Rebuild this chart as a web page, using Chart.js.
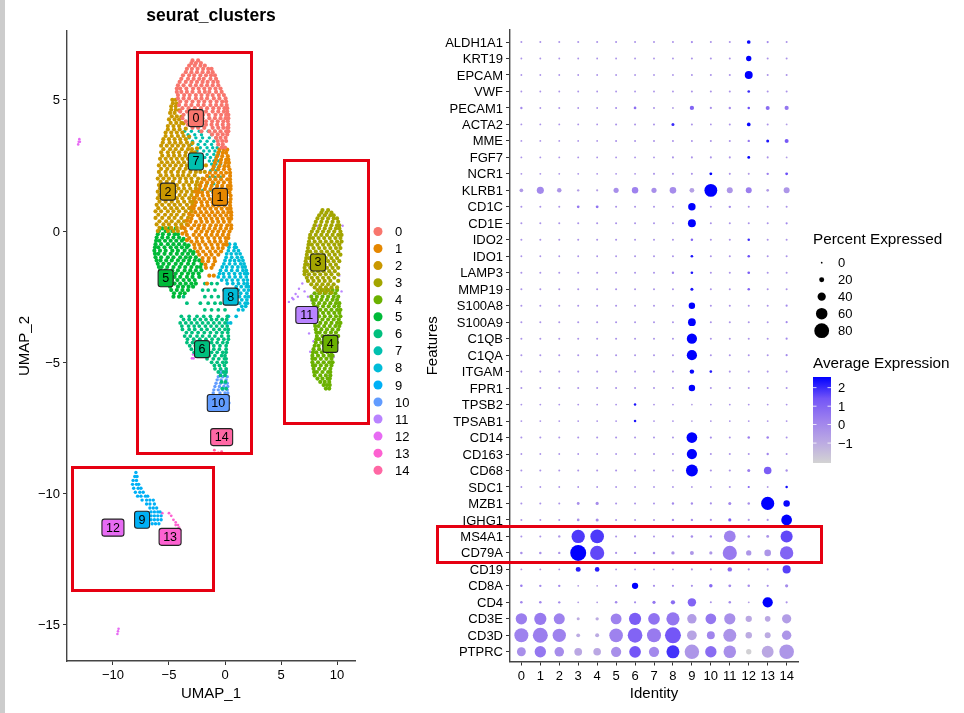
<!DOCTYPE html>
<html>
<head>
<meta charset="utf-8">
<script src="https://cdn.jsdelivr.net/npm/chart.js@4"></script>
<style>
  html, body { margin: 0; padding: 0; background: #fff; overflow: hidden; }
  #page { position: relative; width: 964px; height: 713px; }
  canvas { position: absolute; top: 0; }
  #strip { position: absolute; left: 0; top: 0; width: 5px; height: 713px; background: #cccccc; }
  .box { position: absolute; border: 3px solid #e60012; box-sizing: border-box; }
  #title { position: absolute; left: 111px; width: 200px; top: 5px; text-align: center;
           font: bold 17.5px "Liberation Sans", Arial, sans-serif; color: #000; }
</style>
</head>
<body>
<div id="page">
  <canvas id="umapChart" style="left:0"></canvas>
  <canvas id="dotChart" style="left:410px"></canvas>
  <div id="strip"></div>
  <div id="title">seurat_clusters</div>
  <div class="box" style="left:136px;top:51px;width:117px;height:404px"></div>
  <div class="box" style="left:283px;top:159px;width:87px;height:266px"></div>
  <div class="box" style="left:71px;top:466px;width:144px;height:126px"></div>
  <div class="box" style="left:436px;top:525px;width:387px;height:39px"></div>
</div>
<script>
const FONT = '"Liberation Sans", Arial, sans-serif';

const clusterNames = ['0','1','2','3','4','5','6','7','8','9','10','11','12','13','14'];
const clusterColors = ['#F8766D','#E58700','#C99800','#A3A500','#6BB100','#00BA38','#00BF7D','#00C0AF','#00BCD8','#00B0F6','#619CFF','#B983FF','#E76BF3','#FD61D1','#FF67A4'];
const umapXTicks = [-10,-5,0,5,10];
const umapYTicks = [5,0,-5,-10,-15];

// UMAP cells, one row per y: [y, x, x, x...]
const umap0 = [
  [6.5,-2.9,-2.4],[6.3,-3.2,-2.7,-2.2,-1.8],[6.05,-3.5,-3.0,-2.5,-2.0,-1.5,-1.1],
  [5.8,-3.9,-3.3,-2.8,-2.3,-1.9,-1.3,-.8],[5.55,-4.2,-3.7,-3.1,-2.6,-2.1,-1.6,-1.1,-.6],
  [5.3,-4.3,-3.9,-3.4,-2.9,-2.3,-1.8,-1.4,-.8,-.3],[5.05,-4.2,-3.7,-3.2,-2.6,-2.1,-1.6,-1.0,-.5,.05],
  [4.8,-4.1,-3.5,-3.0,-2.4,-1.9,-1.3,-.8,-.3,.15],[4.55,-4.0,-3.4,-2.8,-2.2,-1.7,-1.1,-.6,-.1,.2],
  [4.3,-3.8,-3.1,-2.5,-2.0,-1.4,-.9,-.4,.05,.3],[4.05,-3.3,-2.7,-2.2,-1.7,-1.2,-.7,-.2,.3],
  [3.8,-2.1,-1.4,-.9,-.4,.1,.3],[3.55,-.8,-.4,.05],[3.3,-.6,-.2],
  [6.4,-3.0,-2.6,-2.15],[6.18,-3.4,-2.95,-2.45,-1.95,-1.5,-1.2],[5.93,-3.75,-3.2,-2.75,-2.2,-1.7,-1.25,-.9],
  [5.68,-4.05,-3.5,-3.0,-2.5,-2.0,-1.55,-1.05,-.65],[5.43,-4.3,-4.0,-3.45,-2.85,-2.35,-1.85,-1.35,-.85,-.4],
  [5.18,-4.2,-3.65,-3.15,-2.6,-2.1,-1.55,-1.1,-.55,-.1],[4.93,-4.0,-3.45,-2.9,-2.35,-1.85,-1.3,-.75,-.25,.1],
  [4.68,-3.8,-3.25,-2.7,-2.15,-1.6,-1.05,-.55,-.05,.2],[4.43,-3.7,-3.15,-2.55,-1.95,-1.45,-.85,-.35,.1,.3],
  [4.18,-3.5,-2.85,-2.3,-1.7,-1.15,-.65,-.15,.25],[3.93,-2.9,-2.4,-1.85,-1.1,-.6,-.15,.2,.3],
  [3.68,-1.15,-.65,-.2,.2],[3.43,-.65,-.25,.1],[3.18,-.3,0]
];
const umap1 = [
  [3.1,-.5,-.1,.2],[2.85,-.7,-.25,.25],[2.6,-.9,-.4,.05,.35],[2.35,-1.1,-.6,-.1,.4],
  [2.1,-1.6,-1.1,-.6,-.15,.45],[1.85,-2.1,-1.6,-1.1,-.6,-.1,.45],[1.6,-2.3,-1.8,-1.3,-.8,-.3,.2,.5],
  [1.35,-2.5,-2,-1.5,-1,-.5,0,.5],[1.1,-2.6,-2.1,-1.6,-1.1,-.6,-.1,.45],[.85,-2.8,-2.3,-1.8,-1.3,-.8,-.3,.2,.5],
  [.6,-2.9,-2.4,-1.9,-1.4,-.9,-.4,.1,.55],[.35,-3.1,-2.6,-2.1,-1.6,-1.1,-.6,-.1,.4],
  [.1,-3.6,-3,-2.4,-1.9,-1.4,-.9,-.4,.1,.55],[-.15,-3.4,-2.8,-2.3,-1.7,-1.2,-.7,-.2,.3],
  [-.4,-3.0,-2.5,-2,-1.4,-.9,-.4,.1],[-.65,-2.7,-2.2,-1.6,-1.1,-.6,-.2],[-.9,-2.3,-1.7,-1.2,-.6],
  [-1.15,-2,-1.5,-.9],[-1.4,-1.7,-1.2],[-1.7,-1.4,-1],[-2,-1.6],
  [2.98,-.6,-.2,.1],[2.72,-.8,-.35,.1,.3],[2.47,-1.0,-.5,-.05,.3],[2.22,-1.35,-.85,-.35,.1,.45],
  [1.97,-1.85,-1.35,-.85,-.35,.2,.45],[1.72,-2.2,-1.7,-1.2,-.7,-.25,.25,.5],[1.47,-2.4,-2.05,-1.55,-1.05,-.55,-.05,.4],
  [1.22,-2.3,-1.85,-1.35,-.85,-.35,.1,.5],[.97,-2.7,-2.05,-1.55,-1.05,-.55,-.05,.45],[.72,-2.65,-2.15,-1.65,-1.15,-.65,-.15,.3,.55],
  [.47,-3.0,-2.2,-1.7,-1.2,-.7,-.2,.3,.55],[.22,-3.3,-2.75,-2.3,-1.85,-1.3,-.8,-.35,.2,.55],[-.02,-3.5,-2.6,-2.1,-1.6,-1.1,-.6,-.1,.4],
  [-.27,-3.2,-2.55,-2.05,-1.5,-.95,-.45,.05,.3],[-.52,-2.75,-2.3,-1.75,-1.2,-.65,-.15,.15],[-.78,-2.45,-1.95,-1.35,-.85,-.35],
  [-1.03,-2.0,-1.45,-.95],[-1.28,-1.75,-1.05],
  [1.5,-2.65],[1.25,-2.8],[.9,-3.0],[.65,-3.2],[.4,-3.4],[.15,-3.8],[-.1,-3.8],[-.35,-3.4]
];
const umap2 = [
  [5.0,-4.7,-4.4],[4.75,-4.8,-4.4],[4.5,-4.9,-4.5],[4.25,-5,-4.5,-4.1],[4.0,-5.1,-4.6,-4.1],
  [3.75,-5.3,-4.8,-4.3,-3.8],[3.5,-5.5,-5,-4.5,-4,-3.5],[3.25,-5.7,-5.2,-4.7,-4.2,-3.7,-3.2],
  [3.0,-5.7,-5.1,-4.6,-4.1,-3.5,-3.0,-2.7],[2.75,-5.8,-5.3,-4.8,-4.3,-3.8,-3.3,-2.8],
  [2.5,-5.9,-5.4,-4.9,-4.4,-3.9,-3.4,-2.9,-2.5],[2.25,-5.9,-5.3,-4.8,-4.2,-3.7,-3.1,-2.6],
  [2.0,-6,-5.5,-5,-4.5,-4,-3.5,-3,-2.4],[1.75,-5.9,-5.4,-4.8,-4.3,-3.7,-3.2,-2.6],
  [1.5,-6,-5.5,-5,-4.4,-3.9,-3.4,-2.9,-2.4],[1.25,-6,-5.4,-4.9,-4.3,-3.8,-3.2,-2.7],
  [1.0,-6.1,-5.6,-5,-4.5,-4,-3.4,-2.9],[.75,-6.2,-5.7,-5.1,-4.6,-4.1,-3.5,-3],
  [.5,-6.2,-5.6,-5,-4.5,-3.9,-3.3],[.25,-6.1,-5.5,-5,-4.4,-3.9,-3.4],[0,-6,-5.1,-4.6,-4.2],
  [4.87,-4.65],[4.62,-4.8,-4.4],[4.37,-4.75,-4.3],[4.12,-4.85,-4.35,-3.9],[3.87,-5.1,-4.55,-4.05],
  [3.62,-5.3,-4.75,-4.2,-3.7],[3.37,-5.55,-4.95,-4.45,-3.95,-3.4],[3.12,-5.5,-4.9,-4.4,-3.85,-3.3,-2.95],
  [2.87,-5.6,-5.05,-4.55,-4.05,-3.55,-3.05],[2.62,-5.65,-5.15,-4.65,-4.15,-3.65,-3.15,-2.7],
  [2.37,-5.7,-5.15,-4.6,-4.05,-3.5,-3,-2.6],[2.12,-5.75,-5.25,-4.7,-4.2,-3.75,-3.25,-2.7],
  [1.87,-5.75,-5.2,-4.65,-4.05,-3.45,-2.95,-2.5],[1.62,-5.8,-5.25,-4.7,-4.15,-3.65,-3.1,-2.6],
  [1.37,-5.85,-5.2,-4.65,-4.05,-3.55,-3,-2.5],[1.12,-5.85,-5.3,-4.75,-4.2,-3.65,-3.1,-2.8],
  [.87,-5.95,-5.35,-4.8,-4.3,-3.75,-3.2,-2.95],[.62,-5.95,-5.35,-4.8,-4.3,-3.7,-3.15],
  [.37,-5.85,-5.25,-4.75,-4.15,-3.65],[.12,-5.85,-5.3,-4.8,-4.3,-3.9],
  [4.85,-4.3],[4.6,-4.1],[4.35,-3.9],[4.1,-3.7],[3.9,-3.5],[3.6,-3.2],[3.35,-2.9],[3.15,-2.5],
  [2.9,-2.4],[2.65,-2.25],[2.5,-2.05,-1.7],[2.25,-2.2,-1.8],[2.0,-2.0],[1.75,-2.25]
];
const umap3 = [
  [.8,8.7,9.2],[.6,8.4,8.9,9.4,9.7],[.35,8.1,8.6,9.1,9.6,10.1],[.1,7.9,8.4,8.9,9.4,9.9,10.2],
  [-.15,7.6,8.1,8.6,9.1,9.6,10.1,10.4],[-.4,7.5,8,8.5,9,9.5,10,10.4],[-.65,7.4,7.9,8.4,8.9,9.4,9.9,10.3],
  [-.9,7.3,7.8,8.3,8.8,9.3,9.8,10.3],[-1.15,7.2,7.7,8.2,8.7,9.2,9.7,10.2],[-1.4,7.1,7.6,8.1,8.6,9.1,9.6,10.1],
  [-1.65,7.1,7.5,8,8.5,9,9.5,10.1],[-1.9,7.4,7.9,8.4,8.9,9.4,10.1],[-2.15,8,8.5,9,9.5,10],[-2.35,8.5,9,9.5],
  [.7,8.6,9.05,9.5],[.48,8.25,8.7,9.2,9.7,10],[.22,8,8.5,9,9.5,10,10.2],[-.02,7.75,8.25,8.75,9.25,9.75,10.3],
  [-.27,7.55,7.85,8.35,8.85,9.35,9.85,10.3],[-.52,7.45,7.75,8.25,8.75,9.25,9.75,10.2],[-.78,7.35,7.6,8.1,8.6,9.1,9.6,10.1],
  [-1.03,7.25,7.5,8,8.5,9,9.5,10],[-1.28,7.15,7.4,7.9,8.4,8.9,9.4,9.9],[-1.53,7.1,7.3,7.8,8.3,8.8,9.3,9.8],
  [-1.78,7.3,7.75,8.25,8.75,9.25,9.75],[-2.03,7.7,8.2,8.7,9.2,9.7],[-2.25,8.25,8.75,9.25]
];
const umap4 = [
  [-2.25,8.6,9.1,9.6,10],[-2.5,7.7,8.2,8.7,9.2,9.7,10.1],[-2.75,7.9,8.4,8.9,9.4,9.9,10.2],
  [-3,8,8.5,9,9.5,10,10.3],[-3.25,7.9,8.4,8.9,9.4,9.9,10.3],[-3.5,8,8.5,9,9.5,10,10.3],
  [-3.75,8.1,8.6,9.1,9.6,10.1],[-4,8.2,8.7,9.2,9.7,10.1],[-4.25,8.1,8.6,9.1,9.6,10],
  [-4.5,7.9,8.4,8.9,9.4,9.6],[-4.75,7.8,8.3,8.8,9.3,9.6],[-5,7.8,8.3,8.8,9.3,9.6],
  [-5.25,7.9,8.4,8.9,9.4],[-5.5,8,8.5,9,9.4],[-5.75,8.5,8.9,9.3],[-6,9,9.3],
  [-2.37,8.0,8.4,8.9,9.4,9.85],[-2.62,7.8,8.1,8.6,9.1,9.6,10],[-2.87,7.95,8.25,8.75,9.25,9.75,10.15],
  [-3.12,7.95,8.25,8.75,9.25,9.75,10.2],[-3.37,7.95,8.2,8.7,9.2,9.7,10.15],[-3.62,8.05,8.35,8.85,9.35,9.85,10.2],
  [-3.87,8.15,8.45,8.95,9.45,9.9],[-4.12,8.15,8.4,8.9,9.4,9.9],[-4.37,8,8.35,8.85,9.35,9.8],
  [-4.62,7.85,8.15,8.65,9.15,9.5],[-4.87,7.8,8.05,8.55,9.05,9.5],[-5.12,7.85,8.05,8.55,9.05,9.5],
  [-5.37,7.95,8.2,8.7,9.2,9.4],[-5.62,8.25,8.7,9.15,9.35],[-5.87,8.8,9.1,9.35]
];
const umap5 = [
  [.1,-5.6,-5,-4.4],
  [0,-5.9,-5.3,-4.7],[-.25,-6.1,-5.6,-5.1,-4.6,-4.1],[-.5,-6.2,-5.7,-5.1,-4.6,-4.1,-3.6],
  [-.75,-6.3,-5.8,-5.3,-4.7,-4.2,-3.6,-3.1],[-1,-6.2,-5.7,-5.1,-4.6,-4,-3.5,-3.1,-2.6],
  [-1.25,-6,-5.5,-5,-4.4,-3.9,-3.3,-2.8,-2.1],[-1.5,-5.8,-5.3,-4.7,-4.2,-3.6,-3.1,-2.6,-2.1],
  [-1.75,-5.6,-5,-4.5,-4,-3.4,-2.9,-2.3],[-2,-5,-4.5,-4,-3.5,-3,-2.6],[-2.25,-4.8,-4.3,-3.8,-3.3],[-2.5,-4.6,-4.1],
  [-.12,-6,-5.55,-5,-4.5,-4.2],[-.37,-6.15,-5.85,-5.35,-4.85,-4.35,-3.85],[-.62,-6.25,-5.95,-5.4,-4.85,-4.35,-3.85,-3.4],
  [-.87,-6.25,-5.95,-5.4,-4.85,-4.3,-3.8,-3.3,-2.85],[-1.12,-6.1,-5.75,-5.25,-4.75,-4.2,-3.7,-3.2,-2.7,-2.3],
  [-1.37,-5.9,-5.65,-5.15,-4.6,-4.05,-3.55,-3,-2.5,-2.2],[-1.62,-5.7,-5.45,-4.95,-4.4,-3.85,-3.3,-2.85,-2.35],
  [-1.87,-5.3,-4.75,-4.25,-3.7,-3.2,-2.7],[-2.12,-4.9,-4.2,-3.75,-3.25,-2.85],[-2.37,-4.55,-4,-3.6],
  [-.3,-3.7],[-.55,-3.25],[-.8,-2.8]
];
const umap6 = [
  [-2,-1.8,-1.2,-.7],[-2.25,-2,-1.5,-.9],[-2.5,-3.7,-1.8,-1.2,-.6],[-2.75,-3.4,-2.2,-1.5,-.9,-.4],
  [-3,-1.8,-1.2,-.6,0],[-3.25,-3.9,-3.2,-2.5,-1.9,-1.3,-.6,.2],[-3.5,-4,-3.5,-3,-2.5,-2,-1.5,-1,-.5,0],
  [-3.75,-3.8,-3.2,-2.7,-2.1,-1.6,-1,-.5,0,.3],[-4,-3.6,-3.1,-2.5,-2,-1.4,-.9,-.3,.3],
  [-4.25,-3.4,-2.9,-2.3,-1.8,-1.2,-.7,-.2,.2],[-4.5,-3,-2.5,-2,-1.5,-1,-.5,.1],
  [-4.75,-2.5,-2,-1.4,-.9,-.3,0],[-5,-1.2,-.7,-.2,.1],[-5.25,-.9,-.4,.1],[-5.5,-.4,0],[-5.75,-.3,.05],[-6,-.25,.1],
  [-3.37,-3.7,-3.2,-2.7,-2.2,-1.7,-1.2,-.75,-.25,.15],[-3.62,-3.85,-3.25,-2.75,-2.3,-1.75,-1.25,-.75,-.25,.2],
  [-3.87,-3.45,-2.95,-2.4,-1.85,-1.3,-.75,-.25,.25],[-4.12,-3.35,-2.8,-2.25,-1.7,-1.15,-.6,-.1,.3],
  [-4.37,-3.15,-2.65,-2.1,-1.5,-1,-.45,.1],[-4.62,-2.75,-2.2,-1.7,-1.2,-.7,-.2,.1],
  [-4.87,-1.6,-1.05,-.55,-.05,.1],[-5.12,-.95,-.5,-.05],[-5.37,-.6,-.15,.1]
];
const umap7 = [
  [3.8,-3.6,-3.0,-2.3,-1.5,-.9],[3.55,-3.2,-2.6,-2.0,-1.4,-.8],[3.3,-3.0,-2.4,-1.8,-1.2,-.6],
  [3.05,-2.5,-1.9,-1.4,-.9,-.5],[2.8,-1.8,-1.3,-.8],[2.55,-1.2,-.8,-.4],[2.3,-1.3,-.8],
  [2.05,-1.4,-.9,-.4],[1.8,-1.6,-1.0],[1.55,-2.0,-1.3],
  [3.67,-3.3,-2.7,-2.1,-1.2],[3.42,-2.9,-2.2,-1.6,-1],[3.17,-2.2,-1.6,-1.1,-.7],[2.92,-1.6,-1,-.6],[2.67,-1.4,-1,-.6],[2.42,-1,-.6]
];
const umap8 = [
  [-.5,.4,.9],[-.75,.3,.8,1.2],[-1,.1,.6,1.1,1.5],[-1.25,-.1,.4,.9,1.4,1.7],[-1.5,-.4,.1,.6,1.1,1.6,1.9],
  [-1.75,-.6,-.1,.4,.9,1.4,1.9],[-2,.2,.7,1.2,1.7,2.0],[-2.25,-.1,1.2,1.7,2.1],[-2.5,1.3,1.8,2.1],
  [-2.75,1.3,1.8,2.0],[-3,1.2,1.6],[-3.25,.3,1],[-3.5,.2,.5],
  [-.62,.35,.85,1.0],[-.87,.15,.55,1,1.35],[-1.12,0,.45,.85,1.25,1.6],[-1.37,-.25,.15,.65,1.15,1.55,1.8],
  [-1.62,-.5,-.15,.35,.85,1.35,1.75,2.0],[-1.87,-.3,.15,.65,1.15,1.65,2.0],[-2.12,1,1.45,1.9,2.1],[-2.37,1.4,1.95],[-2.62,1.5,1.95],[-2.87,1.5,1.85]
];
const umap9 = [
  [-9.2,-7.95],[-9.35,-8.05,-7.85],[-9.5,-8.2,-7.9],[-9.65,-8.25,-7.9,-7.7],[-9.8,-8.15,-7.75,-7.5],
  [-9.95,-8,-7.6,-7.3],[-10.1,-7.8,-7.5,-7.1,-6.9],[-10.25,-7.4,-7,-6.7,-6.4],[-10.4,-7,-6.7,-6.3],
  [-10.55,-6.7,-6.4,-6.1],[-10.7,-6.6,-6.3,-6,-5.8],[-10.85,-6.6,-6.3,-6,-5.7],[-11,-6.6,-6.3,-6,-5.7],[-11.15,-6.5,-6.2,-5.9]
];
const umap10 = [
  [-5.3,-.35,.1],[-5.55,-.6,-.2,.2],[-5.8,-.8,-.4,0,.2],[-6.05,-1,-.6,-.2,.2],
  [-6.3,-1.1,-.7,-.3,.1,.3],[-6.55,-1,-.6,-.2,.2,.35],[-6.8,-.9,.3],
  [-5.42,-.4,.05],[-5.67,-.7,-.35,.1],[-5.92,-.9,-.5,-.1,.25],[-6.17,-1.05,-.45,0,.25]
];
const umap11 = [
  [-2.7,5.7],[-2.55,6.0],[-2.4,6.3,7.9],[-2.2,6.6],[-2.0,6.9],[-2.6,6.1],[-2.5,6.5,7.4],[-2.3,7.1],[-2.65,7.7],
  [.2,8.2,10.5],[.6,9.0],[-1.2,7.3],[-1.7,7.4,10.2],[-2.3,10.4],[-1.4,8.7],[-1.6,9.5],[-3.7,8.6],[-3.9,7.5],
  [-3,10.3],[-3.5,10.2],[-4.2,7.9],[-4.6,7.6],[-5.3,8.0],[-5.5,9.3],[-5,8.9],[-4.8,9.7]
];
const umap12 = [
  [3.5,-13],[3.4,-13.05,-12.95],[3.3,-13.1],
  [-15.15,-9.5],[-15.25,-9.55],[-15.35,-9.6],
  [-4.7,-2.85],[-4.85,-2.8,-2.95],[-6.35,-.9],[-6.8,-.7]
];
const umap13 = [
  [-10.75,-5.6,-5],[-10.85,-4.8],[-11,-4.6],[-11.1,-4.4],[-11.2,-4.2,-4.4],[-11.3,-4.1],[-11.35,-4.2],[-11.4,-4]
];
const umap14 = [[-8.35,-.95],[-8.45,-.6],[-8.4,-.3]];
const umapRows = [umap0,umap1,umap2,umap3,umap4,umap5,umap6,umap7,umap8,umap9,umap10,umap11,umap12,umap13,umap14];
const umapDotRadius = [2.1,2.1,2.1,2.1,2.1,2.1,1.9,1.7,1.9,1.7,1.7,1.2,1.3,1.4,1.4];

// label anchor of each cluster, in UMAP units
const labelX = [-2.6,-.45,-5.1,8.3,9.4,-5.3,-2.05,-2.6,.5,-7.4,-.6,7.3,-10,-4.9,-.3];
const labelY = [4.3,1.3,1.5,-1.2,-4.3,-1.8,-4.5,2.65,-2.5,-11,-6.55,-3.2,-11.3,-11.65,-7.85];

const identities = ['0','1','2','3','4','5','6','7','8','9','10','11','12','13','14'];
const features = ['ALDH1A1','KRT19','EPCAM','VWF','PECAM1','ACTA2','MME','FGF7','NCR1','KLRB1','CD1C','CD1E','IDO2','IDO1','LAMP3','MMP19','S100A8','S100A9','C1QB','C1QA','ITGAM','FPR1','TPSB2','TPSAB1','CD14','CD163','CD68','SDC1','MZB1','IGHG1','MS4A1','CD79A','CD19','CD8A','CD4','CD3E','CD3D','PTPRC'];

// percent expressed, one row per feature, one column per identity
const pctExpressed = [
  [2,2,2,2,2,2,2,2,2,3,2,2,12,3,2],
  [1,1,1,1,1,1,1,1,1,2,2,2,22,2,2],
  [1,1,1,1,1,1,1,1,1,2,2,2,38,2,2],
  [1,1,1,1,1,1,1,1,1,2,2,2,6,2,2],
  [4,1,2,1,1,2,6,2,1,16,3,4,5,14,15],
  [1,1,1,1,1,2,2,2,8,2,1,2,12,2,1],
  [1,1,1,1,1,2,2,2,2,2,2,2,4,8,14],
  [1,1,1,1,1,1,1,1,2,2,2,2,7,2,1],
  [1,1,1,1,1,1,1,2,2,2,7,2,2,4,7],
  [12,33,17,4,3,21,29,21,30,19,68,26,26,6,26],
  [2,2,2,6,7,2,2,2,2,35,2,4,2,2,2],
  [2,2,2,2,2,2,2,2,2,38,2,2,2,2,3],
  [2,2,2,2,2,2,2,2,2,5,2,2,5,2,2],
  [1,1,1,1,1,1,2,2,2,6,2,2,5,2,2],
  [2,2,2,2,2,2,2,2,4,6,2,2,6,2,2],
  [2,2,2,2,2,2,2,2,2,8,2,2,5,2,2],
  [2,2,2,2,2,2,2,2,2,29,2,2,2,2,3],
  [2,2,2,2,2,2,2,2,2,37,2,2,2,2,3],
  [2,2,2,2,2,2,2,2,2,52,2,2,2,2,3],
  [2,2,2,2,2,2,2,2,2,52,2,2,2,2,3],
  [2,2,2,2,2,2,2,2,2,17,6,2,2,2,2],
  [2,2,2,2,2,2,2,2,2,29,2,2,2,2,2],
  [1,1,1,1,1,1,5,1,1,1,1,1,1,1,1],
  [1,1,1,1,1,1,5,1,1,1,1,1,1,1,1],
  [2,2,2,2,2,2,2,2,2,55,3,2,5,5,2],
  [1,1,1,1,1,1,2,2,2,52,2,2,2,4,2],
  [2,2,2,2,2,2,2,2,2,62,3,3,8,36,4],
  [1,1,1,1,1,1,1,1,1,1,1,2,3,1,5],
  [2,2,2,7,9,2,2,2,4,4,3,8,5,70,29],
  [2,2,2,6,8,2,2,2,4,4,3,9,3,3,55],
  [2,2,4,71,73,2,3,2,3,5,4,61,5,7,63],
  [5,5,4,87,76,3,4,5,10,14,9,76,22,30,71],
  [1,1,1,20,18,1,1,1,1,2,2,17,2,2,39],
  [5,4,4,1,1,3,28,3,3,3,11,7,5,3,9],
  [5,5,4,1,1,5,3,9,16,41,2,5,1,52,3],
  [59,64,57,8,10,56,64,61,70,47,55,58,28,24,46],
  [75,81,71,13,14,73,79,75,87,49,38,69,29,26,47],
  [44,59,48,37,36,52,61,52,69,78,59,66,22,62,79]
];

// average expression (scaled), same shape as pctExpressed
const avgExpression = [
  [-.3,-.3,-.3,-.3,-.3,-.3,-.3,-.3,-.3,0,-.3,-.3,2.5,0,-.3],
  [-.3,-.3,-.3,-.3,-.3,-.3,-.3,-.3,-.3,-.3,-.3,-.3,2.6,-.3,-.3],
  [-.3,-.3,-.3,-.3,-.3,-.3,-.3,-.3,-.3,-.3,-.3,-.3,2.7,-.3,-.3],
  [-.3,-.3,-.3,-.3,-.3,-.3,-.3,-.3,-.3,-.3,-.3,-.3,2,-.3,-.3],
  [0,-.3,-.3,-.3,-.3,-.2,.7,-.3,-.6,1,-.2,0,1.5,.8,.5],
  [-.3,-.3,-.3,-.3,-.3,-.3,-.3,-.3,2,-.3,-.3,-.3,2.5,-.3,-.6],
  [-.3,-.3,-.3,-.3,-.3,-.3,-.3,-.3,-.3,-.3,-.3,-.3,.5,2.3,1.3],
  [-.3,-.3,-.3,-.3,-.3,-.3,-.3,-.3,-.3,-.3,-.3,-.3,2.5,-.3,-.6],
  [-.3,-.3,-.3,-.3,-.3,-.3,-.3,-.3,-.3,-.3,2.6,-.3,-.6,.3,1.5],
  [-.5,0,-.4,-.6,-.6,-.2,.2,-.2,-.1,-.7,2.6,-.4,.3,-.5,-.4],
  [-.3,-.3,-.3,.5,.6,-.3,-.3,-.3,-.3,2.6,-.3,0,-.3,-.3,-.3],
  [-.3,-.3,-.3,-.3,-.3,-.3,-.3,-.3,-.3,2.7,-.3,-.3,-.3,-.3,0],
  [-.3,-.3,-.3,-.3,-.3,-.3,-.3,-.3,-.3,1,-.3,-.3,2,-.3,-.3],
  [-.3,-.3,-.3,-.3,-.3,-.3,-.3,-.3,-.3,2.3,-.3,-.3,1.5,-.3,-.3],
  [-.3,-.3,-.3,-.3,-.3,-.3,-.3,-.3,.2,2.3,-.3,-.3,1.2,-.3,-.3],
  [-.3,-.3,-.3,-.3,-.3,-.3,-.3,-.3,-.3,2.3,-.3,-.3,1,-.3,-.3],
  [-.3,-.3,-.3,-.3,-.3,-.3,-.3,-.3,-.3,2.6,-.3,-.3,-.3,-.3,0],
  [-.3,-.3,-.3,-.3,-.3,-.3,-.3,-.3,-.3,2.6,-.3,-.3,-.3,-.3,0],
  [-.3,-.3,-.3,-.3,-.3,-.3,-.3,-.3,-.3,2.7,-.3,-.3,-.3,-.3,0],
  [-.3,-.3,-.3,-.3,-.3,-.3,-.3,-.3,-.3,2.7,-.3,-.3,-.3,-.3,0],
  [-.3,-.3,-.3,-.3,-.3,-.3,-.3,-.3,-.3,2.5,2.2,-.3,-.3,-.3,-.3],
  [-.3,-.3,-.3,-.3,-.3,-.3,-.3,-.3,-.3,2.6,-.3,-.3,-.3,-.3,-.3],
  [-.3,-.3,-.3,-.3,-.3,-.3,2.3,-.3,-.3,-.7,-.3,-.3,-.3,-.3,-.3],
  [-.3,-.3,-.3,-.3,-.3,-.3,2.3,-.3,-.3,-.7,-.3,-.3,-.3,-.3,-.3],
  [-.3,-.3,-.3,-.3,-.3,-.3,-.3,-.3,-.3,2.7,-.1,-.3,.3,.2,-.3],
  [-.3,-.3,-.3,-.3,-.3,-.3,-.3,-.3,-.3,2.7,-.3,-.3,-.3,.1,-.3],
  [-.3,-.3,-.3,-.3,-.3,-.3,-.3,-.3,-.3,2.7,-.3,-.3,.3,1.2,-.2],
  [-.3,-.3,-.3,-.3,-.3,-.3,-.3,-.3,-.3,-.5,-.3,-.3,1,-.5,2.4],
  [-.3,-.3,-.3,-.2,-.1,-.3,-.3,-.3,0,-.1,-.2,.1,-.2,2.6,2.5],
  [-.3,-.3,-.3,-.2,-.1,-.3,-.3,-.3,-.1,-.1,-.2,1.2,-.4,-.4,2.6],
  [-.3,-.3,-.4,1.8,1.8,-.3,-.2,-.3,-.2,-.1,-.1,.2,-.2,-.3,1.6],
  [-.2,-.2,-.3,2.6,1.6,-.3,-.2,-.2,-.3,-.4,-.4,.4,-.4,-.4,1],
  [-.3,-.3,-.3,2.2,2.2,-.3,-.3,-.3,-.3,-.3,-.3,.8,-.3,-.3,1.7],
  [.4,0,0,-.6,-.6,-.1,2.6,-.1,-.1,-.2,.9,0,-.1,-.2,-.1],
  [.1,.1,0,-.6,-.6,0,-.1,.5,.8,1,-.3,0,-.6,2.6,-.3],
  [.3,.4,.2,-1,-1,.2,1.2,.6,.5,-.6,.5,-.2,-.9,-.9,-.6],
  [.2,.3,.2,-1,-1,.2,1,.4,1.4,-.8,.1,-.3,-1,-1,-.4],
  [-.2,.5,-.1,-.9,-.9,-.2,1.4,0,1.9,-.4,.8,-.2,-2,-.9,-.4]
];

const sizeLegendValues = [0,20,40,60,80];
const colorBarTicks = [2,1,0,-1];
const colorBarMin = -2.08, colorBarMax = 2.58;
const colorStops = [[211,211,211],[186,168,227],[157,128,238],[115,85,247],[0,0,255]];

function toPoints(rows) {
  return rows.flatMap(r => r.slice(1).map(x => ({ x: x, y: r[0] })));
}
function pctToRadius(p) { return 0.85 + p * 0.082; }
function expToColor(e) {
  let t = (e - colorBarMin) / (colorBarMax - colorBarMin);
  t = Math.max(0, Math.min(1, t)) * (colorStops.length - 1);
  const i = Math.min(Math.floor(t), colorStops.length - 2);
  const f = t - i;
  const c = [0,1,2].map(k => Math.round(colorStops[i][k] + (colorStops[i+1][k] - colorStops[i][k]) * f));
  return `rgb(${c[0]},${c[1]},${c[2]})`;
}
function axisBase(tickList, fmt, labelOffset) {
  return {
    type: 'linear',
    afterBuildTicks: s => { s.ticks = tickList.map(v => ({ value: v })); },
    grid: { drawOnChartArea: false, drawTicks: true, tickLength: 4, color: '#333', tickWidth: 1 },
    border: { display: true, color: '#444', width: 1.4 },
    ticks: { color: '#000', font: { family: FONT, size: 13 }, padding: 3, labelOffset: labelOffset, autoSkip: false, maxRotation: 0, callback: fmt }
  };
}
const signed = v => String(v).replace('-', '\u2212');

// cluster label boxes and the side legend of the UMAP panel
const umapExtras = {
  id: 'umapExtras',
  afterDatasetsDraw(chart) {
    const ctx = chart.ctx, sx = chart.scales.x, sy = chart.scales.y;
    ctx.save();
    ctx.font = '12.5px ' + FONT;
    ctx.textAlign = 'center';
    ctx.textBaseline = 'middle';
    clusterNames.forEach((name, i) => {
      const px = sx.getPixelForValue(labelX[i]), py = sy.getPixelForValue(labelY[i]);
      const w = name.length > 1 ? 22 : 15, h = 17;
      ctx.beginPath();
      ctx.roundRect(px - w / 2, py - h / 2, w, h, 2.5);
      ctx.fillStyle = clusterColors[i];
      ctx.fill();
      ctx.strokeStyle = '#222';
      ctx.lineWidth = 1.1;
      ctx.stroke();
      ctx.fillStyle = '#000';
      ctx.fillText(name, px, py + 0.5);
    });
    // legend
    ctx.textAlign = 'left';
    ctx.font = '13px ' + FONT;
    clusterNames.forEach((name, i) => {
      const y = 231.5 + i * 17.05;
      ctx.beginPath();
      ctx.arc(378, y, 4.5, 0, Math.PI * 2);
      ctx.fillStyle = clusterColors[i];
      ctx.fill();
      ctx.fillStyle = '#000';
      ctx.fillText(name, 395, y + 1);
    });
    ctx.restore();
  }
};

// percent-expressed and colour-bar legends of the dot plot
const dotExtras = {
  id: 'dotExtras',
  afterDraw(chart) {
    const ctx = chart.ctx, ox = -410;
    ctx.save();
    ctx.textAlign = 'left';
    ctx.textBaseline = 'middle';
    ctx.fillStyle = '#000';
    ctx.font = '15.3px ' + FONT;
    ctx.fillText('Percent Expressed', 813 + ox, 240);
    ctx.fillText('Average Expression', 813 + ox, 363.5);
    ctx.font = '13px ' + FONT;
    sizeLegendValues.forEach((v, i) => {
      const y = 262.7 + i * 17;
      ctx.beginPath();
      ctx.arc(821.7 + ox, y, pctToRadius(v), 0, Math.PI * 2);
      ctx.fillStyle = '#000';
      ctx.fill();
      ctx.fillText(String(v), 838 + ox, y + 1);
    });
    const top = 377, bottom = 463, left = 813 + ox, width = 18;
    const grad = ctx.createLinearGradient(0, bottom, 0, top);
    colorStops.forEach((c, i) => grad.addColorStop(i / (colorStops.length - 1), `rgb(${c[0]},${c[1]},${c[2]})`));
    ctx.fillStyle = grad;
    ctx.fillRect(left, top, width, bottom - top);
    colorBarTicks.forEach(v => {
      const y = top + (colorBarMax - v) / (colorBarMax - colorBarMin) * (bottom - top);
      ctx.fillStyle = '#fff';
      ctx.fillRect(left, y - 0.4, 3.5, 0.8);
      ctx.fillRect(left + width - 3.5, y - 0.4, 3.5, 0.8);
      ctx.fillStyle = '#000';
      ctx.fillText(signed(v), 838 + ox, y + 1);
    });
    ctx.restore();
  }
};

Chart.defaults.font.family = FONT;

const umapCanvas = document.getElementById('umapChart');
umapCanvas.style.width = '410px';
umapCanvas.style.height = '713px';
const umapX = axisBase(umapXTicks, signed, 0);
umapX.min = -14.1; umapX.max = 11.6;
umapX.afterFit = s => { s.height = 52; };
umapX.title = { display: true, text: 'UMAP_1', color: '#000', font: { family: FONT, size: 15 }, padding: { top: 0, bottom: 10.5 } };
const umapY = axisBase(umapYTicks, signed, 1);
umapY.min = -16.38; umapY.max = 7.62;
umapY.afterFit = s => { s.width = 67; };
umapY.title = { display: true, text: 'UMAP_2', color: '#000', font: { family: FONT, size: 15 }, padding: { top: 16, bottom: 0 } };

new Chart(umapCanvas, {
  type: 'scatter',
  data: {
    datasets: umapRows.map((rows, i) => ({
      label: clusterNames[i],
      data: toPoints(rows),
      backgroundColor: clusterColors[i],
      borderWidth: 0,
      pointRadius: umapDotRadius[i]
    }))
  },
  options: {
    responsive: false,
    animation: false,
    layout: { padding: { left: 0, top: 31, right: 55, bottom: 0 } },
    plugins: { legend: { display: false }, title: { display: false }, tooltip: { enabled: false } },
    scales: { x: umapX, y: umapY }
  },
  plugins: [umapExtras]
});

const dotCanvas = document.getElementById('dotChart');
dotCanvas.style.width = '554px';
dotCanvas.style.height = '713px';
const dotX = axisBase(identities.map((_, i) => i), v => identities[v], 0);
dotX.min = -0.6; dotX.max = 14.6;
dotX.afterFit = s => { s.height = 51.5; };
dotX.title = { display: true, text: 'Identity', color: '#000', font: { family: FONT, size: 15 }, padding: { top: 0, bottom: 10.5 } };
const dotY = axisBase(features.map((_, i) => i), v => features[v], 1);
dotY.min = -0.73; dotY.max = 37.59; dotY.reverse = true;
dotY.afterFit = s => { s.width = 100; };
dotY.title = { display: true, text: 'Features', color: '#000', font: { family: FONT, size: 15 }, padding: { top: 14, bottom: 0 } };

const dotData = [];
features.forEach((f, row) => {
  identities.forEach((id, col) => {
    dotData.push({ x: col, y: row, r: pctToRadius(pctExpressed[row][col]), e: avgExpression[row][col] });
  });
});

new Chart(dotCanvas, {
  type: 'bubble',
  data: {
    datasets: [{
      label: 'dots',
      data: dotData,
      backgroundColor: c => expToColor(c.raw.e),
      borderWidth: 0
    }]
  },
  options: {
    responsive: false,
    animation: false,
    layout: { padding: { left: 0, top: 30, right: 166, bottom: 0 } },
    plugins: { legend: { display: false }, title: { display: false }, tooltip: { enabled: false } },
    scales: { x: dotX, y: dotY }
  },
  plugins: [dotExtras]
});
</script>
</body>
</html>
